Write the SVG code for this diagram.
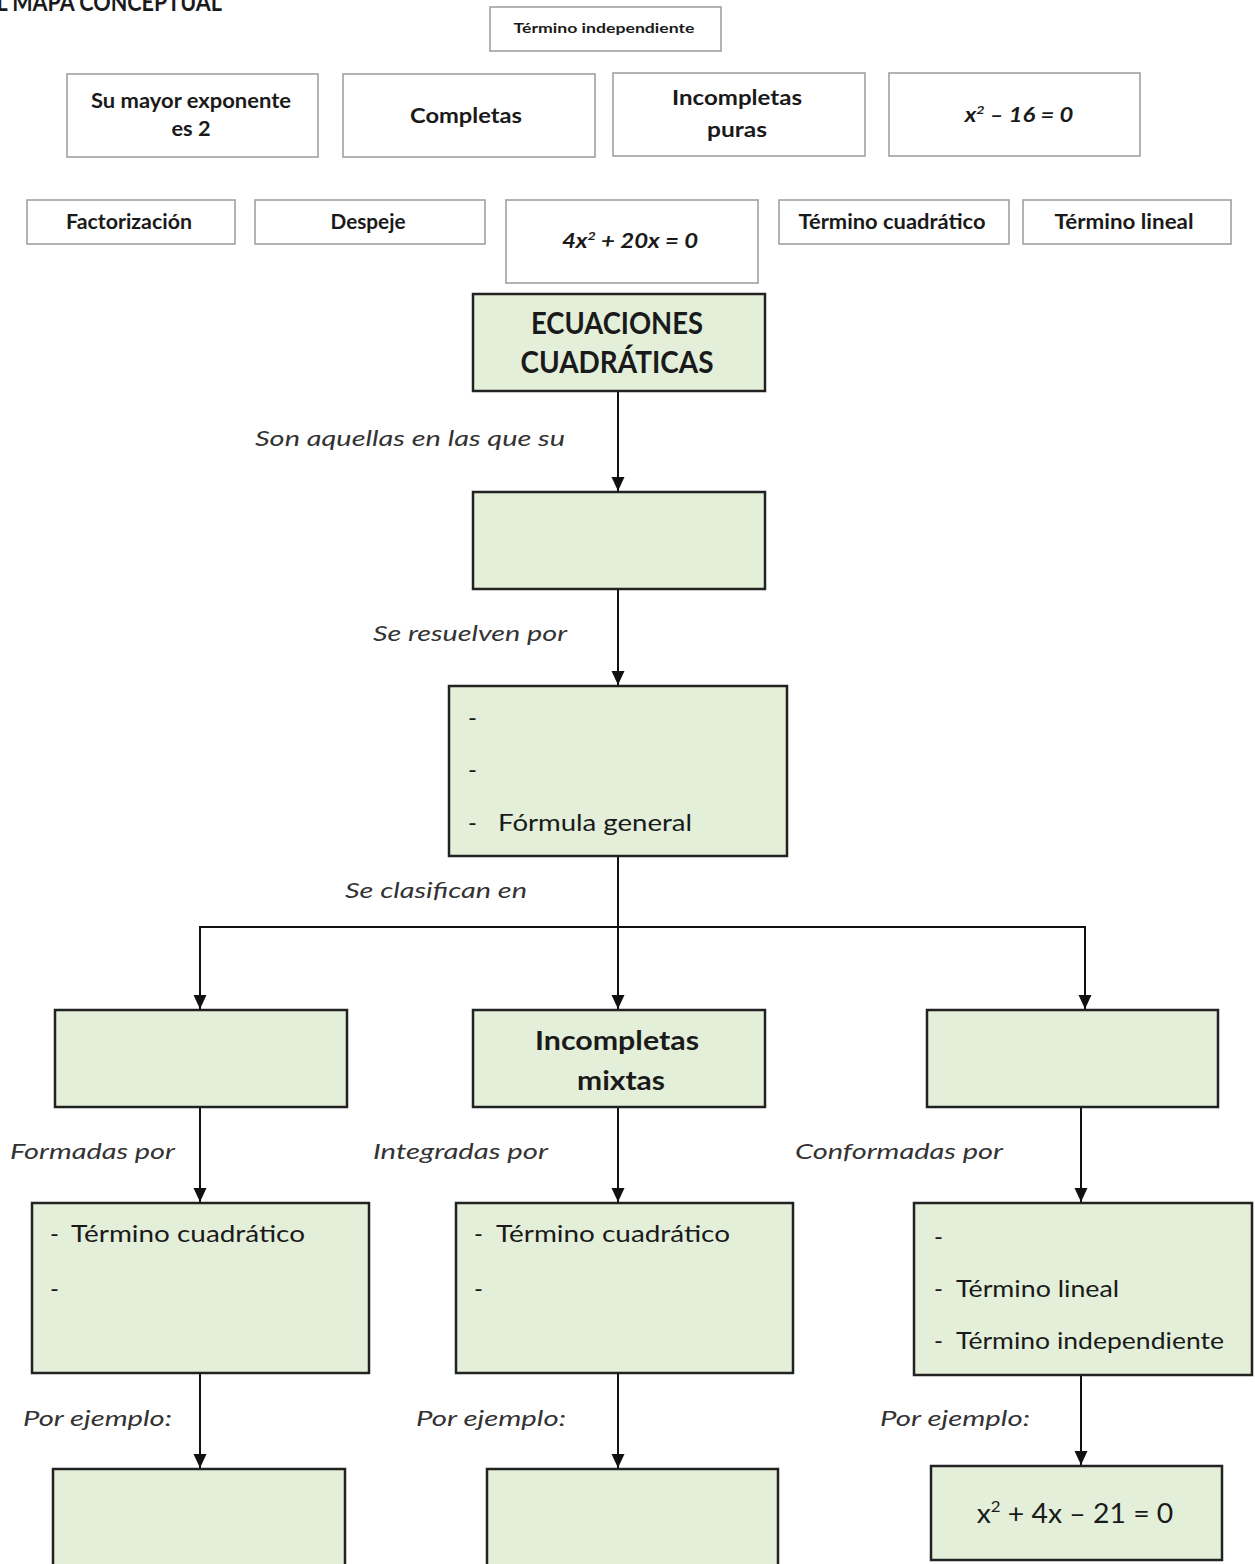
<svg xmlns="http://www.w3.org/2000/svg" width="1255" height="1564" viewBox="0 0 1255 1564">
<style>
text{font-family:Lato,"Liberation Sans",Arial,sans-serif;fill:#1a1a1a}
.w{fill:#ffffff;stroke:#9a9a9a;stroke-width:1.5}
.g{fill:#e3efd9;stroke:#222;stroke-width:2.5}
.tb{font-weight:bold;font-size:21px;text-anchor:middle}
.ts{font-weight:bold;font-size:14px;text-anchor:middle}
.eq{font-weight:bold;font-style:italic;font-size:20px;text-anchor:middle}
.big{font-weight:bold;font-size:30px;text-anchor:middle}
.mid{font-weight:bold;font-size:27px;text-anchor:middle}
.it{font-style:italic;font-size:22px;fill:#333}
.li{font-size:24px}
.c{fill:none;stroke:#111;stroke-width:2}
</style>
<defs>
<marker id="ah" markerUnits="userSpaceOnUse" markerWidth="15" markerHeight="14" refX="14" refY="6.5" orient="auto-start-reverse" viewBox="0 0 15 14">
<path d="M0,0 L14,6.5 L0,13 Z" fill="#111"/>
</marker>
</defs>
<rect width="1255" height="1564" fill="#ffffff"/>

<text x="-16" y="11" font-size="24" font-weight="bold" textLength="238" lengthAdjust="spacingAndGlyphs">EL MAPA CONCEPTUAL</text>

<g id="opt-termino-independiente"><rect class="w" x="490" y="7" width="231" height="44"/><text class="ts" x="604" y="33" textLength="181" lengthAdjust="spacingAndGlyphs">Término independiente</text></g>
<g id="opt-mayor-exponente"><rect class="w" x="67" y="74" width="251" height="83"/><text class="tb" x="191" y="108" textLength="200" lengthAdjust="spacingAndGlyphs">Su mayor exponente</text><text class="tb" x="191" y="136" textLength="39" lengthAdjust="spacingAndGlyphs">es 2</text></g>
<g id="opt-completas"><rect class="w" x="343" y="74" width="252" height="83"/><text class="tb" x="466" y="123" textLength="112" lengthAdjust="spacingAndGlyphs">Completas</text></g>
<g id="opt-incompletas-puras"><rect class="w" x="613" y="73" width="252" height="83"/><text class="tb" x="737" y="105" textLength="130" lengthAdjust="spacingAndGlyphs">Incompletas</text><text class="tb" x="737" y="137" textLength="60" lengthAdjust="spacingAndGlyphs">puras</text></g>
<g id="opt-eq1"><rect class="w" x="889" y="73" width="251" height="83"/><text class="eq" transform="translate(1019,122) scale(1.19,1)">x<tspan font-size="12" dy="-8">2</tspan><tspan dy="8"> – 16 = 0</tspan></text></g>
<g id="opt-factorizacion"><rect class="w" x="27" y="200" width="208" height="44"/><text class="tb" x="129" y="229" textLength="126" lengthAdjust="spacingAndGlyphs">Factorización</text></g>
<g id="opt-despeje"><rect class="w" x="255" y="200" width="230" height="44"/><text class="tb" x="368" y="229" textLength="75" lengthAdjust="spacingAndGlyphs">Despeje</text></g>
<g id="opt-eq2"><rect class="w" x="506" y="200" width="252" height="83"/><text class="eq" transform="translate(630,248) scale(1.2,1)">4x<tspan font-size="12" dy="-8">2</tspan><tspan dy="8"> + 20x = 0</tspan></text></g>
<g id="opt-termino-cuadratico"><rect class="w" x="779" y="200" width="230" height="44"/><text class="tb" x="892" y="229" textLength="187" lengthAdjust="spacingAndGlyphs">Término cuadrático</text></g>
<g id="opt-termino-lineal"><rect class="w" x="1023" y="200" width="208" height="44"/><text class="tb" x="1124" y="229" textLength="139" lengthAdjust="spacingAndGlyphs">Término lineal</text></g>

<g id="connectors">
<line class="c" x1="618" y1="391" x2="618" y2="491" marker-end="url(#ah)"/>
<line class="c" x1="618" y1="589" x2="618" y2="685" marker-end="url(#ah)"/>
<line class="c" x1="618" y1="856" x2="618" y2="1009" marker-end="url(#ah)"/>
<polyline class="c" points="200,1009 200,927 1085,927 1085,1009" marker-start="url(#ah)" marker-end="url(#ah)"/>
<line class="c" x1="200" y1="1107" x2="200" y2="1202" marker-end="url(#ah)"/>
<line class="c" x1="618" y1="1107" x2="618" y2="1202" marker-end="url(#ah)"/>
<line class="c" x1="1081" y1="1107" x2="1081" y2="1202" marker-end="url(#ah)"/>
<line class="c" x1="200" y1="1373" x2="200" y2="1468" marker-end="url(#ah)"/>
<line class="c" x1="618" y1="1373" x2="618" y2="1468" marker-end="url(#ah)"/>
<line class="c" x1="1081" y1="1375" x2="1081" y2="1465" marker-end="url(#ah)"/>
<text class="it" x="255" y="446" textLength="310" lengthAdjust="spacingAndGlyphs">Son aquellas en las que su</text>
<text class="it" x="373" y="641" textLength="194" lengthAdjust="spacingAndGlyphs">Se resuelven por</text>
<text class="it" x="345" y="898" textLength="182" lengthAdjust="spacingAndGlyphs">Se clasifican en</text>
<text class="it" x="10" y="1159" textLength="165" lengthAdjust="spacingAndGlyphs">Formadas por</text>
<text class="it" x="373" y="1159" textLength="175" lengthAdjust="spacingAndGlyphs">Integradas por</text>
<text class="it" x="795" y="1159" textLength="208" lengthAdjust="spacingAndGlyphs">Conformadas por</text>
<text class="it" x="23" y="1426" textLength="149" lengthAdjust="spacingAndGlyphs">Por ejemplo:</text>
<text class="it" x="416" y="1426" textLength="150" lengthAdjust="spacingAndGlyphs">Por ejemplo:</text>
<text class="it" x="880" y="1426" textLength="150" lengthAdjust="spacingAndGlyphs">Por ejemplo:</text>
</g>

<g id="n-ecuaciones"><rect class="g" x="473" y="294" width="292" height="97"/><text class="big" x="617" y="334" textLength="172" lengthAdjust="spacingAndGlyphs">ECUACIONES</text><text class="big" x="617" y="373" textLength="193" lengthAdjust="spacingAndGlyphs">CUADRÁTICAS</text></g>
<g id="n-exponente"><rect class="g" x="473" y="492" width="292" height="97"/></g>
<g id="n-metodos"><rect class="g" x="449" y="686" width="338" height="170"/>
<text class="li" x="468" y="726">-</text><text class="li" x="468" y="778">-</text><text class="li" x="468" y="831">-</text><text class="li" x="498" y="831" textLength="194" lengthAdjust="spacingAndGlyphs">Fórmula general</text></g>
<g id="n-completas"><rect class="g" x="55" y="1010" width="292" height="97"/></g>
<g id="n-mixtas"><rect class="g" x="473" y="1010" width="292" height="97"/><text class="mid" x="617" y="1050" textLength="164" lengthAdjust="spacingAndGlyphs">Incompletas</text><text class="mid" x="621" y="1090" textLength="88" lengthAdjust="spacingAndGlyphs">mixtas</text></g>
<g id="n-puras"><rect class="g" x="927" y="1010" width="291" height="97"/></g>
<g id="n-terminos-l"><rect class="g" x="32" y="1203" width="337" height="170"/>
<text class="li" x="50" y="1242">-</text><text class="li" x="71" y="1242" textLength="234" lengthAdjust="spacingAndGlyphs">Término cuadrático</text><text class="li" x="50" y="1297">-</text></g>
<g id="n-terminos-m"><rect class="g" x="456" y="1203" width="337" height="170"/>
<text class="li" x="474" y="1242">-</text><text class="li" x="496" y="1242" textLength="234" lengthAdjust="spacingAndGlyphs">Término cuadrático</text><text class="li" x="474" y="1297">-</text></g>
<g id="n-terminos-r"><rect class="g" x="914" y="1203" width="338" height="172"/>
<text class="li" x="934" y="1245">-</text><text class="li" x="934" y="1297">-</text><text class="li" x="956" y="1297" textLength="163" lengthAdjust="spacingAndGlyphs">Término lineal</text><text class="li" x="934" y="1349">-</text><text class="li" x="956" y="1349" textLength="268" lengthAdjust="spacingAndGlyphs">Término independiente</text></g>
<g id="n-ejemplo-l"><rect class="g" x="53" y="1469" width="292" height="110"/></g>
<g id="n-ejemplo-m"><rect class="g" x="487" y="1469" width="291" height="110"/></g>
<g id="n-ejemplo-r"><rect class="g" x="931" y="1466" width="291" height="94"/><text font-size="27" text-anchor="middle" transform="translate(1075,1523) scale(1.05,1)">x<tspan font-size="16" dy="-11">2</tspan><tspan dy="11"> + 4x – 21 = 0</tspan></text></g>
</svg>
